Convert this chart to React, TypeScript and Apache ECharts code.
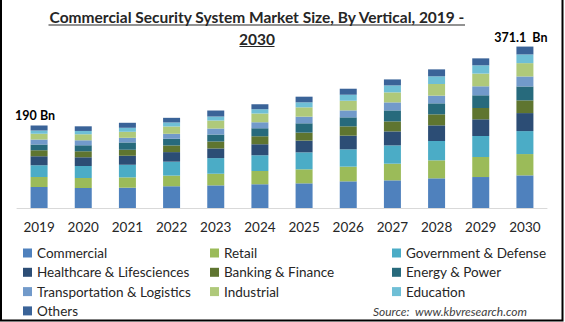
import React, { useEffect, useRef } from "react";
import * as echarts from "echarts";

const years = ["2019", "2020", "2021", "2022", "2023", "2024", "2025", "2026", "2027", "2028", "2029", "2030"];
const seriesNames = [
  "Commercial",
  "Retail",
  "Government & Defense",
  "Healthcare & Lifesciences",
  "Banking & Finance",
  "Energy & Power",
  "Transportation & Logistics",
  "Industrial",
  "Education",
  "Others",
];
const commercial = [48.4, 46.0, 46.7, 50.0, 52.0, 54.5, 56.7, 61.3, 63.6, 68.2, 71.2, 75.0];
const retail = [23.0, 23.0, 23.7, 24.5, 26.8, 30.6, 32.2, 33.8, 38.3, 41.4, 46.0, 49.0];
const government = [27.0, 27.6, 29.0, 32.0, 35.9, 36.0, 39.0, 39.8, 42.0, 44.4, 48.3, 52.8];
const healthcare = [20.6, 20.0, 20.7, 22.0, 22.2, 25.3, 27.0, 31.4, 32.2, 36.0, 38.4, 41.4];
const banking = [13.7, 13.8, 13.8, 15.3, 16.0, 18.4, 18.4, 21.4, 23.0, 25.3, 26.0, 29.2];
const energy = [13.0, 13.8, 16.8, 15.3, 16.0, 18.4, 21.4, 20.7, 25.3, 25.3, 29.2, 32.0];
const transportation = [12.0, 11.5, 10.7, 11.5, 13.8, 13.8, 15.3, 16.0, 18.4, 17.7, 20.7, 23.0];
const industrial = [13.0, 13.8, 13.8, 16.8, 18.4, 20.0, 21.4, 22.2, 23.0, 26.7, 29.2, 30.6];
const education = [7.6, 7.6, 9.2, 9.2, 9.2, 10.0, 11.5, 13.8, 16.0, 17.7, 19.0, 20.0];
const others = [11.4, 10.7, 11.5, 10.7, 13.8, 11.5, 13.0, 13.8, 13.8, 16.0, 16.0, 18.1];
const totalLabels = ["190 Bn", "", "", "", "", "", "", "", "", "", "", "371.1  Bn"];

const seriesValues = [commercial, retail, government, healthcare, banking, energy, transportation, industrial, education, others];
const colors = ["#4f81bd", "#9bbb59", "#4bacc6", "#2c4d75", "#5f7530", "#276a7c", "#729aca", "#afc97a", "#6fbfd6", "#3a6398"];

const titleLine1 = "Commercial Security System Market Size, By Vertical, 2019 -";
const titleLine2 = "2030";
const sourceText = "Source:  www.kbvresearch.com";

const FONT = "Lato, 'Open Sans', sans-serif";

export default function App() {
  const ref = useRef<HTMLDivElement>(null);
  useEffect(() => {
    if (!ref.current) return;
    const chart = echarts.init(ref.current, undefined, { renderer: "svg" });
    const series = seriesNames.map((name, i) => ({
      name,
      type: "bar",
      stack: "total",
      barWidth: 17,
      data: seriesValues[i],
      itemStyle: { color: colors[i] },
      label:
        i === seriesNames.length - 1
          ? {
              show: true,
              position: "top",
              distance: 3,
              offset: [-4, 0],
              formatter: (p: any) => totalLabels[p.dataIndex],
              fontFamily: FONT,
              fontWeight: "bold",
              fontSize: 12.5,
              color: "#000",
            }
          : { show: false },
    }));
    const legendCol = (names: string[], left: number) => ({
      data: names,
      orient: "vertical",
      left,
      top: 246,
      itemWidth: 9,
      itemHeight: 9,
      itemGap: 5.3,
      icon: "rect",
      padding: 0,
      selectedMode: false,
      textStyle: { fontFamily: FONT, fontSize: 13.5, color: "#262626", lineHeight: 13 },
    });
    chart.setOption({
      animation: false,
      backgroundColor: "#fff",
      grid: { left: 17, top: 34, width: 530, height: 174, containLabel: false },
      xAxis: {
        type: "category",
        data: years,
        axisLine: { lineStyle: { color: "#d9d9d9", width: 1 } },
        axisTick: { show: false },
        axisLabel: { fontFamily: FONT, fontSize: 13.5, color: "#262626", margin: 12 },
      },
      yAxis: { type: "value", min: 0, max: 400, show: false, splitLine: { show: false } },
      legend: [
        legendCol(["Commercial", "Healthcare & Lifesciences", "Transportation & Logistics", "Others"], 23),
        legendCol(["Retail", "Banking & Finance", "Industrial"], 210),
        legendCol(["Government & Defense", "Energy & Power", "Education"], 392),
      ],
      graphic: [
        {
          type: "text",
          x: 257,
          y: 17,
          style: {
            text: titleLine1,
            textAlign: "center",
            textVerticalAlign: "middle",
            fontFamily: FONT,
            fontWeight: "bold",
            fontSize: 15.5,
            fill: "#262626",
          },
        },
        {
          type: "text",
          x: 257,
          y: 38.5,
          style: {
            text: titleLine2,
            textAlign: "center",
            textVerticalAlign: "middle",
            fontFamily: FONT,
            fontWeight: "bold",
            fontSize: 15.5,
            fill: "#262626",
          },
        },
        { type: "line", shape: { x1: 48.5, y1: 25, x2: 465, y2: 25 }, style: { stroke: "#262626", lineWidth: 1.2 } },
        { type: "line", shape: { x1: 239.5, y1: 46.5, x2: 274.5, y2: 46.5 }, style: { stroke: "#262626", lineWidth: 1.2 } },
        {
          type: "text",
          x: 527,
          y: 311,
          style: {
            text: sourceText,
            textAlign: "right",
            textVerticalAlign: "middle",
            fontFamily: FONT,
            fontStyle: "italic",
            fontSize: 12,
            fill: "#404040",
          },
        },
        {
          type: "polyline",
          shape: { points: [[1, 0], [1, 320.5], [562.5, 320.5], [562.5, 0]] },
          style: { stroke: "#000", lineWidth: 2, fill: "none" },
        },
      ],
      series,
    });
    return () => chart.dispose();
  }, []);
  return <div ref={ref} style={{ position: "fixed", left: 0, top: 0, width: 565, height: 322 }} />;
}
